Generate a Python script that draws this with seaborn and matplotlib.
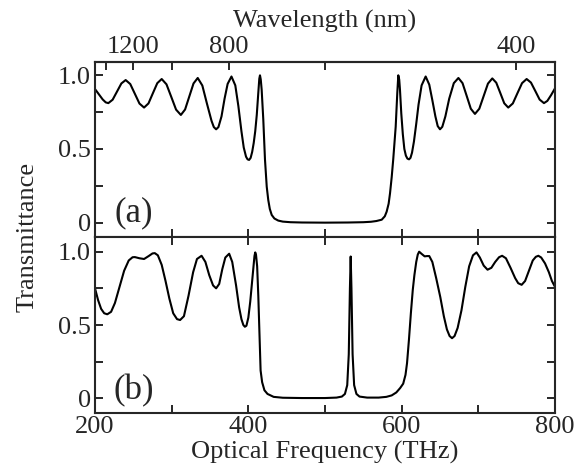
import numpy as np
import pandas as pd
import matplotlib
matplotlib.use("Agg")
import matplotlib.pyplot as plt
import seaborn as sns

# panel (a): optical frequency (THz) and transmittance
freq_a = [200, 205, 210, 214, 217.4, 223, 228.7, 234.4, 240, 246, 252, 258, 264,
          269.75, 275.5, 281.25, 287, 293.25, 299.5, 305.75, 312, 317.5, 323, 328.5,
          334, 340, 346, 352, 355, 358, 361, 365, 369, 373, 378, 383, 387, 391, 394,
          397, 399, 401, 403, 405, 407, 409, 411, 413, 414.3, 415.2, 416.2, 417.4,
          419.5, 421.7, 424, 426, 428, 430.5, 434, 439, 445, 455, 470, 500, 530, 550,
          560, 567, 574, 578, 580.4, 583, 584.8, 587, 589, 592.2, 594.3, 595.6, 596.8,
          597.8, 599.5, 601.5, 603.5, 605.5, 607.5, 609.6, 611.5, 613.5, 616, 619,
          622, 626, 631.3, 636, 640, 644, 647, 650, 653, 657, 662, 668, 674, 679.4,
          684.8, 690.2, 695.6, 701.25, 706.9, 712.55, 718.2, 723.4, 728.6, 733.8,
          739, 745, 751, 757, 763, 768.65, 774.3, 779.95, 785.6, 790, 795, 800]
trans_a = [0.905, 0.87, 0.835, 0.815, 0.81, 0.833, 0.888, 0.943, 0.966, 0.939, 0.873,
           0.807, 0.78, 0.808, 0.877, 0.945, 0.973, 0.937, 0.852, 0.766, 0.73, 0.767,
           0.855, 0.943, 0.98, 0.929, 0.807, 0.69, 0.648, 0.633, 0.648, 0.72, 0.84,
           0.94, 0.99, 0.93, 0.79, 0.62, 0.51, 0.448, 0.43, 0.426, 0.44, 0.48, 0.54,
           0.62, 0.73, 0.88, 0.975, 0.998, 0.97, 0.9, 0.70, 0.43, 0.245, 0.155, 0.095,
           0.054, 0.03, 0.016, 0.009, 0.005, 0.003, 0.002, 0.003, 0.005, 0.008, 0.013,
           0.022, 0.045, 0.076, 0.13, 0.2, 0.31, 0.43, 0.65, 0.88, 0.998, 0.97, 0.9,
           0.74, 0.6, 0.5, 0.455, 0.435, 0.43, 0.44, 0.475, 0.55, 0.67, 0.8, 0.93,
           0.99, 0.935, 0.83, 0.72, 0.655, 0.633, 0.65, 0.72, 0.84, 0.945, 0.98, 0.945,
           0.859, 0.772, 0.737, 0.772, 0.857, 0.942, 0.977, 0.948, 0.879, 0.809, 0.78,
           0.808, 0.877, 0.945, 0.973, 0.949, 0.892, 0.834, 0.81, 0.825, 0.865, 0.91]

# panel (b): same frequency axis, structure with a defect mode
freq_b = [200, 204, 208, 212, 216, 221, 226, 232, 238, 244, 249, 252, 258, 264, 270,
          275, 278, 282, 287, 292, 297, 302, 307, 311, 316, 322, 328, 333, 339, 344,
          349, 354, 358, 362, 366, 370, 375, 379, 384, 388, 391, 393.5, 395.5, 397.5,
          400, 402.5, 405, 407, 408, 409, 410, 411.5, 413, 414.5, 416, 418, 421, 425,
          433, 445, 470, 500, 515, 522, 526, 529, 531, 532.5, 533.5, 534.5, 536, 538,
          541, 545, 555, 570, 580, 587, 593, 598, 602, 605, 607, 609.5, 612, 614.5,
          616.6, 619, 621, 622.8, 626, 630, 633, 636, 640, 645, 650.4, 655, 659,
          662.5, 665.7, 669, 673, 678, 683, 688, 693, 697.6, 702, 707, 712, 717, 722,
          727, 731, 736, 742, 748, 752, 756.5, 761, 766, 771, 775, 778.3, 782, 787,
          792, 796, 800]
trans_b = [0.75, 0.67, 0.61, 0.58, 0.573, 0.59, 0.65, 0.76, 0.87, 0.94, 0.962, 0.963,
           0.955, 0.95, 0.97, 0.988, 0.99, 0.975, 0.91, 0.8, 0.68, 0.58, 0.54, 0.534,
           0.56, 0.7, 0.86, 0.95, 0.972, 0.93, 0.84, 0.77, 0.75, 0.78, 0.88, 0.96,
           0.986, 0.93, 0.77, 0.62, 0.54, 0.5, 0.488, 0.495, 0.55, 0.66, 0.8, 0.92,
           0.97, 0.995, 0.98, 0.9, 0.7, 0.45, 0.19, 0.11, 0.055, 0.03, 0.01, 0.004,
           0.002, 0.002, 0.005, 0.012, 0.03, 0.09, 0.3, 0.75, 0.967, 0.75, 0.3, 0.09,
           0.03, 0.012, 0.005, 0.005, 0.01, 0.02, 0.04, 0.07, 0.1, 0.16, 0.24, 0.4,
           0.58, 0.74, 0.84, 0.93, 0.98, 1.0, 0.985, 0.968, 0.97, 0.97, 0.93, 0.82,
           0.69, 0.56, 0.47, 0.425, 0.41, 0.425, 0.48, 0.6, 0.76, 0.9, 0.975, 0.995,
           0.96, 0.905, 0.877, 0.89, 0.93, 0.962, 0.972, 0.955, 0.89, 0.82, 0.785,
           0.774, 0.8, 0.87, 0.94, 0.965, 0.972, 0.96, 0.92, 0.86, 0.8, 0.76]

x_ticks = [200, 300, 400, 500, 600, 700, 800]
x_labels = ["200", "", "400", "", "600", "", "800"]
y_ticks = [0, 0.25, 0.5, 0.75, 1.0]
y_labels = ["0", "", "0.5", "", "1.0"]
wl_ticks = [1400, 1200, 1000, 800, 600, 400]
wl_labels = ["", "1200", "", "800", "", "400"]

C_NM_THZ = 299792.458

sns.set_theme(style="ticks")
plt.rcParams['font.family'] = ['Liberation Serif', 'DejaVu Serif']

fig = plt.figure(figsize=(5.8, 4.73), dpi=100)
left, width = 95 / 580, 460 / 580
ax_a = fig.add_axes([left, 1 - 237 / 473, width, 175 / 473])
ax_b = fig.add_axes([left, 1 - 413 / 473, width, 176 / 473])

df_a = pd.DataFrame({"freq": freq_a, "T": trans_a})
df_b = pd.DataFrame({"freq": freq_b, "T": trans_b})
sns.lineplot(data=df_a, x="freq", y="T", ax=ax_a, color="black", lw=1.5, sort=False)
sns.lineplot(data=df_b, x="freq", y="T", ax=ax_b, color="black", lw=1.5, sort=False)

fs = 19
for ax in (ax_a, ax_b):
    ax.set_xlim(200, 800)
    ax.set_xticks(x_ticks)
    ax.set_yticks(y_ticks)
    ax.set_yticklabels(y_labels)
    ax.set_xlabel("")
    ax.set_ylabel("")
    for sp in ax.spines.values():
        sp.set_linewidth(1.5)
        sp.set_visible(True)
    ax.tick_params(direction="in", length=6, width=1.4, labelsize=fs,
                   left=True, right=True, bottom=True, top=True, pad=3)

ax_a.set_ylim(-0.095, 1.088)
ax_b.set_ylim(-0.1, 1.1)
ax_a.tick_params(top=False, labelbottom=False)
ax_b.set_xticklabels(x_labels)
ax_b.tick_params(axis="x", pad=2)

# top axis in wavelength
sec = ax_a.secondary_xaxis("top", functions=(lambda f: C_NM_THZ / np.asarray(f, float),
                                             lambda w: C_NM_THZ / np.asarray(w, float)))
sec.set_xticks(wl_ticks)
sec.set_xticklabels(wl_labels)
sec.tick_params(direction="in", length=6, width=1.4, labelsize=fs, pad=3)
sec.spines["top"].set_linewidth(1.5)
sec.set_xlabel("Wavelength (nm)", fontsize=fs, labelpad=6)

ax_a.text(251, 0.07, "(a)", fontsize=25, ha="center", va="center")
ax_b.text(251, 0.055, "(b)", fontsize=25, ha="center", va="center")

ax_b.set_xlabel("Optical Frequency (THz)", fontsize=fs, labelpad=2)
fig.text(28 / 580, 1 - 237 / 473, "Transmittance", rotation=90, fontsize=fs,
         ha="center", va="center")

fig.savefig("out.png", dpi=100)
